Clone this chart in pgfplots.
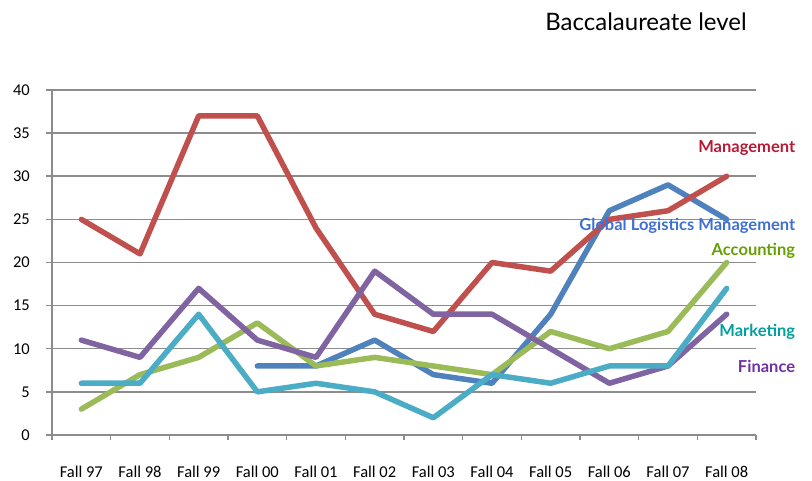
\documentclass[border=0pt]{standalone}
\usepackage{pgfplots}
\pgfplotsset{compat=1.18}
\usepackage{fontspec}
\setmainfont{Lato}
\newfontfamily\tickfont{Carlito}

\definecolor{cMgmt}{HTML}{C0504D}
\definecolor{cGlm}{HTML}{4F81BD}
\definecolor{cAcc}{HTML}{9BBB59}
\definecolor{cMkt}{HTML}{4BACC6}
\definecolor{cFin}{HTML}{8064A2}
\definecolor{lMgmt}{HTML}{B81A35}
\definecolor{lGlm}{HTML}{3E6FD2}
\definecolor{lAcc}{HTML}{66A000}
\definecolor{lMkt}{HTML}{00A09E}
\definecolor{lFin}{HTML}{7030A0}
\definecolor{axgray}{HTML}{8C8C8C}

\begin{document}
\begin{tikzpicture}
\path[use as bounding box] (0,0) rectangle (812pt,481pt);
\node[font=\fontsize{24}{28}\selectfont] at (646pt,459pt) {Baccalaureate level};
\begin{axis}[
    at={(52pt,46pt)}, anchor=south west,
    scale only axis,
    width=704pt, height=345pt,
    xmin=-0.5, xmax=11.5,
    ymin=0, ymax=40,
    ytick={0,5,...,40},
    xtick={0,...,11},
    xticklabels={Fall 97,Fall 98,Fall 99,Fall 00,Fall 01,Fall 02,Fall 03,Fall 04,Fall 05,Fall 06,Fall 07,Fall 08},
    axis lines=left,
    axis line style={-, axgray, line width=2pt},
    tick align=outside,
    major tick length=6pt,
    tick style={axgray, line width=1.5pt},
    xtick style={draw=none},
    extra x ticks={-0.5,0.5,...,11.5},
    extra x tick labels={},
    extra x tick style={xtick style={draw=axgray, line width=1.5pt}, major tick length=5pt, grid=none},
    ymajorgrids=true,
    grid style={axgray, line width=1.5pt},
    ticklabel style={font=\tickfont\fontsize{16.5}{19}\selectfont, text=black},
    /pgf/number format/assume math mode=true,
    xticklabel shift=22pt,
    yticklabel style={anchor=east, inner sep=0pt, xshift=-16pt},
    clip=false,
    every axis plot/.append style={line width=5.5pt, line join=round, line cap=round, mark=none},
]
% Global Logistics Management
\addplot[cGlm] coordinates {(3,8) (4,8) (5,11) (6,7) (7,6) (8,14) (9,26) (10,29) (11,25)};
% Management
\addplot[cMgmt] coordinates {(0,25) (1,21) (2,37) (3,37) (4,24) (5,14) (6,12) (7,20) (8,19) (9,25) (10,26) (11,30)};
% Accounting
\addplot[cAcc] coordinates {(0,3) (1,7) (2,9) (3,13) (4,8) (5,9) (6,8) (7,7) (8,12) (9,10) (10,12) (11,20)};
% Finance
\addplot[cFin] coordinates {(0,11) (1,9) (2,17) (3,11) (4,9) (5,19) (6,14) (7,14) (8,10) (9,6) (10,8) (11,14)};
% Marketing
\addplot[cMkt] coordinates {(0,6) (1,6) (2,14) (3,5) (4,6) (5,5) (6,2) (7,7) (8,6) (9,8) (10,8) (11,17)};

\begin{scope}[every node/.style={anchor=east, inner sep=0pt, font=\bfseries\fontsize{16.5}{19}\selectfont}]
\node[text=lMgmt] at (axis cs:12.17,33.3) {Management};
\node[text=lGlm] at (axis cs:12.17,24.3) {Global Logistics Management};
\node[text=lAcc] at (axis cs:12.17,21.3) {Accounting};
\node[text=lMkt] at (axis cs:12.17,12.0) {Marketing};
\node[text=lFin] at (axis cs:12.17,8.0) {Finance};
\end{scope}
\end{axis}
\end{tikzpicture}
\end{document}
